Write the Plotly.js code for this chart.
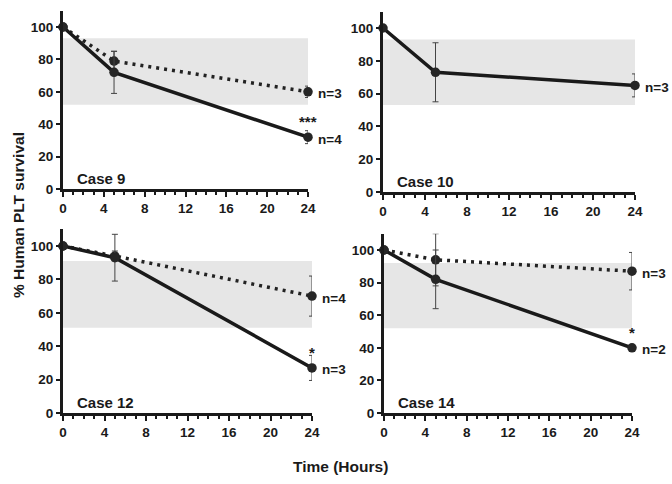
<!DOCTYPE html>
<html><head><meta charset="utf-8">
<script src="https://cdn.plot.ly/plotly-3.0.1.min.js"></script>
<style>html,body{margin:0;padding:0;background:#fff}#chart{width:672px;height:484px}</style>
</head><body><div id="chart"></div>
<script>
const hours = [0, 5, 24];
const caseNames = ["Case 9", "Case 10", "Case 12", "Case 14"];
// solid series
const solidVals = [[100, 72, 32], [100, 73, 65], [100, 93, 27], [100, 82, 40]];
const solidErr  = [[0, 13, 4], [0, 18, 7], [0, 14, 7.5], [0, 18, 0]];
// dotted series (null = none)
const dottedVals = [[100, 79, 60], null, [100, 94, 70], [100, 94, 87]];
const dottedErr  = [[0, 6, 3.5], null, [0, 3, 12], [0, 16, 11.5]];
// gray reference band
const bandLow  = [52, 53, 51, 52];
const bandHigh = [93, 93, 91, 92];
// labels at 24 h
const solidN  = ["n=4", "n=3", "n=3", "n=2"];
const dottedN = ["n=3", null, "n=4", "n=3"];
const stars   = ["***", null, "*", "*"];
const xTicks = [0, 4, 8, 12, 16, 20, 24];
const yTicks = [0, 20, 40, 60, 80, 100];

const W = 672, H = 484;
const geom = [
  {x0: 63, x1: 308, y0: 189, y1: 10.8},
  {x0: 383, x1: 635, y0: 192, y1: 11.6},
  {x0: 63, x1: 312, y0: 413, y1: 229.3},
  {x0: 384, x1: 632, y0: 413, y1: 233.7}
];
const FONT = "Liberation Sans, Arial, sans-serif";
const ink = "#1a1a1a";
const traces = [], shapes = [], annotations = [];
const layout = {
  width: W, height: H, margin: {l: 0, r: 0, t: 0, b: 0},
  paper_bgcolor: "#fff", plot_bgcolor: "rgba(0,0,0,0)", showlegend: false,
  font: {family: FONT, size: 13, color: ink, weight: 700}
};
geom.forEach((g, i) => {
  const n = i === 0 ? "" : String(i + 1);
  const xa = "x" + n, ya = "y" + n;
  layout["xaxis" + n] = {
    domain: [g.x0 / W, g.x1 / W], range: [0, 24], anchor: ya,
    showline: true, linewidth: 3, linecolor: ink, showgrid: false, zeroline: false,
    tickvals: xTicks, ticks: "outside", ticklen: 5, tickwidth: 2, tickcolor: ink,
    minor: {dtick: 1, ticks: "outside", ticklen: 3, tickwidth: 2, tickcolor: ink},
    tickfont: {family: FONT, size: 13.5, color: ink, weight: 700}, fixedrange: true
  };
  layout["yaxis" + n] = {
    domain: [(H - g.y0) / H, (H - g.y1) / H], range: [0, 110], anchor: xa,
    showline: true, linewidth: 3, linecolor: ink, showgrid: false, zeroline: false,
    tickvals: yTicks, ticks: "outside", ticklen: 4, tickwidth: 2, tickcolor: ink,
    tickfont: {family: FONT, size: 13.5, color: ink, weight: 700}, fixedrange: true
  };
  shapes.push({type: "rect", xref: xa, yref: ya, x0: 0, x1: 24, y0: bandLow[i], y1: bandHigh[i],
    fillcolor: "#e6e6e6", line: {width: 0}, layer: "below"});
  if (dottedVals[i]) {
    traces.push({x: hours, y: dottedVals[i], xaxis: xa, yaxis: ya, type: "scatter", mode: "lines+markers",
      cliponaxis: false,
      line: {color: "#222", width: 3.5, dash: "3px,5px"},
      marker: {size: 9.5, color: "#262626"},
      error_y: {type: "data", array: dottedErr[i], visible: true, thickness: 1, width: 3, color: "#444"}});
  }
  traces.push({x: hours, y: solidVals[i], xaxis: xa, yaxis: ya, type: "scatter", mode: "lines+markers",
    cliponaxis: false,
    line: {color: ink, width: 3.5},
    marker: {size: 9.5, color: "#262626"},
    error_y: {type: "data", array: solidErr[i], visible: true, thickness: 1, width: 3, color: "#444"}});
  annotations.push({xref: xa, yref: ya, x: 0, y: 0, xanchor: "left", yanchor: "bottom",
    xshift: 12, yshift: 0, text: caseNames[i], showarrow: false,
    font: {family: FONT, size: 15, color: ink, weight: 700}});
  annotations.push({xref: xa, yref: ya, x: 24, y: solidVals[i][2], xanchor: "left", yanchor: "middle",
    xshift: 8, yshift: -2, text: solidN[i], showarrow: false,
    font: {family: FONT, size: 13.5, color: ink, weight: 700}});
  if (dottedN[i]) {
    annotations.push({xref: xa, yref: ya, x: 24, y: dottedVals[i][2], xanchor: "left", yanchor: "middle",
      xshift: 8, yshift: -2, text: dottedN[i], showarrow: false,
      font: {family: FONT, size: 13.5, color: ink, weight: 700}});
  }
  if (stars[i]) {
    annotations.push({xref: xa, yref: ya, x: 24, y: solidVals[i][2], xanchor: "center", yanchor: "bottom",
      yshift: 5, text: stars[i], showarrow: false,
      font: {family: FONT, size: 15, color: ink, weight: 700}});
  }
});
annotations.push({xref: "paper", yref: "paper", x: 18 / W, y: 1 - 215 / H, textangle: -90,
  text: "% Human PLT survival", showarrow: false, xanchor: "center", yanchor: "middle",
  font: {family: FONT, size: 15.5, color: ink, weight: 700}});
annotations.push({xref: "paper", yref: "paper", x: 340 / W, y: 1 - 466 / H,
  text: "Time (Hours)", showarrow: false, xanchor: "center", yanchor: "middle",
  font: {family: FONT, size: 15.5, color: ink, weight: 700}});
layout.shapes = shapes;
layout.annotations = annotations;
Plotly.newPlot("chart", traces, layout, {displayModeBar: false, staticPlot: true});
</script></body></html>
